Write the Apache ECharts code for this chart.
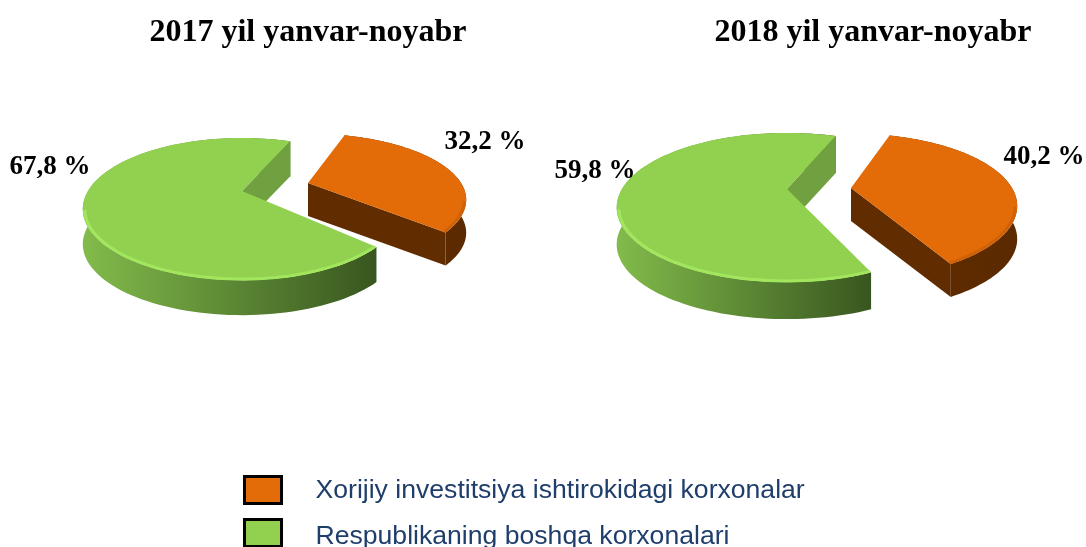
<!DOCTYPE html>
<html><head><meta charset="utf-8">
<style>html,body{margin:0;padding:0;background:#fff}#c{width:1086px;height:547px}</style>
<script src="https://cdn.jsdelivr.net/npm/echarts@6/dist/echarts.min.js"></script>
</head><body><div id="c"></div>
<script>
const categories = ['Xorijiy investitsiya ishtirokidagi korxonalar', 'Respublikaning boshqa korxonalari'];
const titles = ['2017 yil yanvar-noyabr', '2018 yil yanvar-noyabr'];
const values2017 = [32.2, 67.8];
const values2018 = [40.2, 59.8];

const looks = [
  { top:'#e36c09', rim:'#cf6208', wall:'#602c00', side:['#602c00','#5c2a00'] },
  { top:'#92d050', rim:'#a2e65e', wall:'#70a03f', side:['#82bb4b','#38561f'] }
];
const layout2017 = [
  { start:16.7, warp:1, cx:308, cy:183, R:153, Rk:62, p:.254, d:33, lx:485, ly:142 },
  { start:20.9, warp:2.8, cx:242, cy:191, R:154, Rk:66.5, p:.254, d:35, lx:50, ly:167 }
];
const layout2018 = [
  { start:13, warp:9.6, cx:851, cy:188, R:161, Rk:68, p:.248, d:33, lx:1044, ly:157 },
  { start:16.9, warp:8, cx:787, cy:189, R:165, Rk:70, p:.248, d:37, lx:595, ly:171 }
];

function project(g, deg, f){
  const t = deg*Math.PI/180, u = Math.sin(t), v = -Math.cos(t), s = 1/(1-g.p*v);
  return [g.cx+f*g.R*u*s, g.cy+f*g.Rk*v*s];
}
function sliceSeries(name, value, before, g, i){
  const look = looks[i];
  const ang = pct => { const a = g.start + pct*3.6; return a + g.warp*Math.sin(2*a*Math.PI/180); };
  return {
    type:'custom', name, coordinateSystem:'none', silent:true, animation:false,
    itemStyle:{ color:look.top }, data:[[value, before]],
    renderItem(params, api){
      const val = api.value(0), from = ang(api.value(1)), to = ang(api.value(1)+val);
      const arc = [], inner = [];
      for(let k=0;k<=120;k++){
        const d = from+(to-from)*k/120;
        arc.push(project(g, d, 1));
        inner.push(project(g, d, .988));
      }
      const down = p => [p[0], p[1]+g.d];
      const apex = [g.cx,g.cy], seen = arc[arc.length-1];
      const poly = (points, fill) => ({ type:'polygon', shape:{points}, style:{fill} });
      const sideFill = new echarts.graphic.LinearGradient(0,0,1,0,[
        {offset:0,color:look.side[0]},{offset:1,color:look.side[1]}]);
      return { type:'group', children:[
        poly(arc.concat(arc.map(down).reverse()), sideFill),
        poly([apex,seen,down(seen),down(apex)], look.wall),
        poly([apex].concat(arc), look.top),
        { type:'polyline', shape:{points:inner.filter(q=>q[1]>g.cy+18)}, style:{fill:'none',stroke:look.rim,lineWidth:3} },
        { type:'text', x:g.lx, y:g.ly, style:{ text:val.toFixed(1).replace('.',',')+' %', fill:'#000',
          font:'bold 27px "Liberation Serif"', align:'center', verticalAlign:'middle' } }
      ]};
    }
  };
}
const series = [];
[[values2017,layout2017],[values2018,layout2018]].forEach(([vals,lay])=>{
  let before = 0;
  vals.forEach((v,i)=>{ series.push(sliceSeries(categories[i],v,before,lay[i],i)); before += v; });
});
const titleStyle = {fontFamily:'Liberation Serif',fontWeight:'bold',fontSize:32,color:'#000'};
const legendOf = (i, top, pad) => ({ orient:'vertical', left:243, top, padding:0, itemWidth:37, itemHeight:27,
    selectedMode:false, icon:'rect',
    formatter:'{t|{name}}',
    textStyle:{ rich:{ t:{ fontFamily:'Liberation Sans', fontSize:26.6, color:'#1f3e6b', padding:[pad,0,0,29] } } },
    data:[{ name:categories[i], itemStyle:{ color:looks[i].top, borderColor:'#000', borderWidth:3 } }] });
const chart = echarts.init(document.getElementById('c'),null,{renderer:'canvas'});
chart.setOption({
  backgroundColor:'#fff', animation:false,
  title:[
    { text:titles[0], left:308, top:33, textAlign:'center', textVerticalAlign:'middle', padding:0, textStyle:titleStyle },
    { text:titles[1], left:873, top:33, textAlign:'center', textVerticalAlign:'middle', padding:0, textStyle:titleStyle }
  ],
  legend:[legendOf(0,475,2), legendOf(1,518,8)],
  series
});
</script></body></html>
